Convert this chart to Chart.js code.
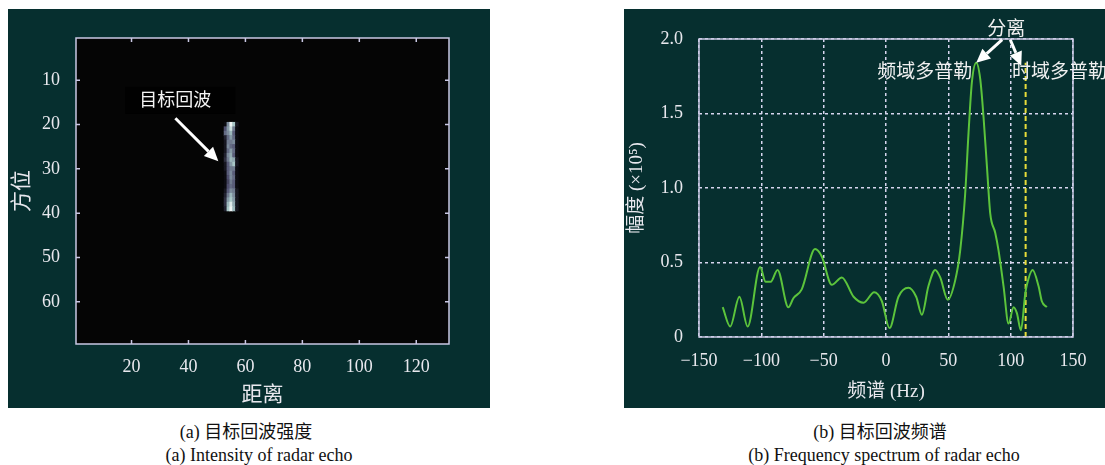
<!DOCTYPE html>
<html>
<head>
<meta charset="utf-8">
<script src="https://cdn.jsdelivr.net/npm/chart.js@4.4.1/dist/chart.umd.min.js"></script>
<style>
  body { margin: 0; background: #fff; width: 1105px; height: 465px; position: relative; overflow: hidden;
         font-family: "Liberation Serif", "Noto Sans CJK SC", serif; }
  .panel { position: absolute; background: #062f2f; }
  #pa { left: 8px; top: 9px; width: 482px; height: 399px; }
  #pb { left: 624px; top: 9px; width: 481px; height: 399px; }
  .cap { position: absolute; width: 400px; text-align: center; line-height: 22px; color: #111; }
  .zh { font-size: 18px; }
  .en { font-size: 18px; }
</style>
</head>
<body>
<div class="panel" id="pa"><canvas id="ca" width="482" height="399"></canvas></div>
<div class="panel" id="pb"><canvas id="cb" width="481" height="399"></canvas></div>
<div class="cap zh" style="left:46px;top:421px">(a) 目标回波强度</div>
<div class="cap en" style="left:59px;top:444px">(a) Intensity of radar echo</div>
<div class="cap zh" style="left:680px;top:421px">(b) 目标回波频谱</div>
<div class="cap en" style="left:684px;top:444px">(b) Frequency spectrum of radar echo</div>
<script>
const FONT = '"Liberation Serif", "Noto Sans CJK SC", serif';
const INK = '#e8e8ee';
const FRAME = '#c9c8e4';
const GRID = '#d6d5ee';

// (a) echo image: range columns, azimuth rows, intensity 0..1
const echoCols = [53, 54, 55, 56, 57];
const echoRows = [20, 21, 22, 23, 24, 25, 26, 27, 28, 29, 30, 31, 32, 33, 34, 35, 36, 37, 38, 39];
const echoLevels = [
  [0.05, 0.55, 0.95, 0.75, 0.10],
  [0.35, 0.60, 0.85, 0.50, 0.05],
  [0.45, 0.55, 0.70, 0.40, 0.05],
  [0.15, 0.45, 0.60, 0.45, 0.05],
  [0.10, 0.50, 0.50, 0.55, 0.05],
  [0.10, 0.55, 0.45, 0.40, 0.05],
  [0.10, 0.45, 0.60, 0.45, 0.05],
  [0.15, 0.55, 0.65, 0.40, 0.05],
  [0.20, 0.50, 0.70, 0.65, 0.10],
  [0.10, 0.40, 0.60, 0.75, 0.10],
  [0.10, 0.40, 0.50, 0.50, 0.05],
  [0.05, 0.40, 0.55, 0.40, 0.05],
  [0.05, 0.35, 0.55, 0.45, 0.05],
  [0.05, 0.30, 0.50, 0.40, 0.05],
  [0.05, 0.35, 0.45, 0.40, 0.05],
  [0.10, 0.40, 0.55, 0.50, 0.10],
  [0.15, 0.50, 0.70, 0.55, 0.10],
  [0.20, 0.60, 0.75, 0.60, 0.10],
  [0.20, 0.70, 0.90, 0.65, 0.10],
  [0.15, 0.75, 0.95, 0.70, 0.10]
];
const rangeTicks = [20, 40, 60, 80, 100, 120];
const azimuthTicks = [10, 20, 30, 40, 50, 60];

// (b) spectrum
const freqHz = [-131, -125, -117.6, -111, -101, -96.5, -92.5, -87, -78.3, -74.3, -67.6, -56.9, -51.5,
  -43.5, -35.4, -26, -18, -9.5, -3.3, 2.8, 10, 18, 24.2, 28.8, 34, 39.5, 43.5, 49.6, 55.5, 59.5,
  63.5, 66.2, 68.9, 72.4, 75.6, 78.2, 81, 83.6, 87.6, 90.3, 94.3, 98.3, 102.3, 105, 108.2, 111.7,
  113, 117.6, 122.4, 125, 129];
const amp = [0.20, 0.07, 0.27, 0.07, 0.47, 0.37, 0.37, 0.45, 0.20, 0.26, 0.32, 0.59, 0.54,
  0.35, 0.40, 0.27, 0.23, 0.30, 0.24, 0.06, 0.27, 0.33, 0.27, 0.15, 0.34, 0.45, 0.40, 0.25, 0.38, 0.58,
  0.96, 1.37, 1.71, 1.84, 1.73, 1.48, 1.14, 0.83, 0.70, 0.58, 0.34, 0.09, 0.20, 0.16, 0.045, 0.29,
  0.35, 0.45, 0.34, 0.24, 0.20];
const timeDopplerHz = 112;
const timeDopplerTop = 1.84;
const freqTicks = [-150, -100, -50, 0, 50, 100, 150];
const ampTicks = [0, 0.5, 1.0, 1.5, 2.0];

// matlab-like bone colormap
function bone(t) {
  const lerp = (pts) => {
    for (let i = 1; i < pts.length; i++) {
      if (t <= pts[i][0]) {
        const [x0, y0] = pts[i - 1], [x1, y1] = pts[i];
        return y0 + (y1 - y0) * (t - x0) / (x1 - x0);
      }
    }
    return 1;
  };
  const r = lerp([[0, 0], [0.746, 0.653], [1, 1]]);
  const g = lerp([[0, 0], [0.365, 0.319], [0.746, 0.778], [1, 1]]);
  const b = lerp([[0, 0], [0.365, 0.444], [1, 1]]);
  return `rgb(${Math.round(r * 255)},${Math.round(g * 255)},${Math.round(b * 255)})`;
}

function arrow(ctx, x1, y1, x2, y2) {
  const a = Math.atan2(y2 - y1, x2 - x1);
  const hl = 14, hw = 6.5;
  const bx = x2 - hl * Math.cos(a), by = y2 - hl * Math.sin(a);
  ctx.save();
  ctx.strokeStyle = '#fff';
  ctx.fillStyle = '#fff';
  ctx.lineWidth = 3;
  ctx.beginPath();
  ctx.moveTo(x1, y1);
  ctx.lineTo(bx, by);
  ctx.stroke();
  ctx.beginPath();
  ctx.moveTo(x2, y2);
  ctx.lineTo(bx + hw * Math.sin(a), by - hw * Math.cos(a));
  ctx.lineTo(bx - hw * Math.sin(a), by + hw * Math.cos(a));
  ctx.closePath();
  ctx.fill();
  ctx.restore();
}

const frame = (chart) => {
  const { ctx, chartArea: ca } = chart;
  ctx.save();
  ctx.strokeStyle = FRAME;
  ctx.lineWidth = 1.5;
  ctx.strokeRect(ca.left, ca.top, ca.right - ca.left, ca.bottom - ca.top);
  ctx.restore();
};

// ---------- (a) ----------
const cells = [];
const cellColors = [];
echoRows.forEach((row, i) => {
  echoCols.forEach((col, j) => {
    cells.push({ x: col, y: [row - 0.5, row + 0.5] });
    cellColors.push(bone(echoLevels[i][j]));
  });
});

new Chart(document.getElementById('ca'), {
  type: 'bar',
  data: {
    datasets: [{ data: cells, backgroundColor: cellColors, borderWidth: 0, barPercentage: 1, categoryPercentage: 1 }]
  },
  options: {
    responsive: false,
    animation: false,
    events: [],
    layout: { padding: { left: 0, right: 41, top: 29, bottom: 0 } },
    plugins: { legend: { display: false }, tooltip: { enabled: false } },
    scales: {
      x: {
        type: 'linear', min: 0.5, max: 131.5, offset: false,
        grid: { display: false, offset: false, drawTicks: false },
        border: { display: false },
        afterBuildTicks: (s) => { s.ticks = rangeTicks.map(v => ({ value: v })); },
        afterFit: (s) => { s.height = 64; },
        ticks: { color: INK, font: { family: FONT, size: 18 }, padding: 12, maxRotation: 0, autoSkip: false },
        title: { display: true, text: '距离', color: INK, font: { family: FONT, size: 21 }, padding: { top: 0, bottom: 0 } }
      },
      y: {
        type: 'linear', min: 0.5, max: 69.5, reverse: true,
        grid: { display: false, drawTicks: false },
        border: { display: false },
        afterBuildTicks: (s) => { s.ticks = azimuthTicks.map(v => ({ value: v })); },
        afterFit: (s) => { s.width = 68; },
        ticks: { color: INK, font: { family: FONT, size: 18 }, padding: 16, autoSkip: false },
        title: { display: true, text: '方位', color: INK, font: { family: FONT, size: 21 }, padding: { top: 2, bottom: 0 } }
      }
    }
  },
  plugins: [{
    id: 'echoDecor',
    beforeDraw(chart) {
      const { ctx, chartArea: ca } = chart;
      ctx.save();
      ctx.fillStyle = '#050505';
      ctx.fillRect(ca.left, ca.top, ca.right - ca.left, ca.bottom - ca.top);
      ctx.restore();
    },
    afterDraw(chart) {
      const { ctx, chartArea: ca, scales: { x, y } } = chart;
      frame(chart);
      ctx.save();
      ctx.strokeStyle = FRAME;
      ctx.lineWidth = 1.5;
      ctx.beginPath();
      rangeTicks.forEach(v => {
        const px = x.getPixelForValue(v);
        ctx.moveTo(px, ca.bottom); ctx.lineTo(px, ca.bottom - 4);
        ctx.moveTo(px, ca.top); ctx.lineTo(px, ca.top + 4);
      });
      azimuthTicks.forEach(v => {
        const py = y.getPixelForValue(v);
        ctx.moveTo(ca.left, py); ctx.lineTo(ca.left + 4, py);
        ctx.moveTo(ca.right, py); ctx.lineTo(ca.right - 4, py);
      });
      ctx.stroke();

      // label box + arrow
      const tx = x.getPixelForValue(35.4), ty = y.getPixelForValue(14.7);
      ctx.fillStyle = '#010101';
      ctx.fillRect(tx - 50, ty - 14, 110, 27);
      ctx.fillStyle = '#f4f4f4';
      ctx.font = `18px ${FONT}`;
      ctx.textAlign = 'center';
      ctx.textBaseline = 'middle';
      ctx.fillText('目标回波', tx, ty);
      ctx.restore();
      arrow(ctx, x.getPixelForValue(35.4), y.getPixelForValue(18.6), x.getPixelForValue(50.5), y.getPixelForValue(28.3));
    }
  }]
});

// ---------- (b) ----------
const fmt = (v) => String(v).replace('-', '\u2212');

new Chart(document.getElementById('cb'), {
  type: 'line',
  data: {
    datasets: [
      {
        data: freqHz.map((f, i) => ({ x: f, y: amp[i] })),
        borderColor: '#5cc43c', borderWidth: 2, pointRadius: 0,
        cubicInterpolationMode: 'monotone', fill: false
      },
      {
        data: [{ x: timeDopplerHz, y: 0 }, { x: timeDopplerHz, y: timeDopplerTop }],
        borderColor: '#e8dc3a', borderWidth: 2, borderDash: [5, 3], pointRadius: 0, fill: false
      }
    ]
  },
  options: {
    responsive: false,
    animation: false,
    events: [],
    layout: { padding: { left: 0, right: 32, top: 30, bottom: 0 } },
    plugins: { legend: { display: false }, tooltip: { enabled: false } },
    scales: {
      x: {
        type: 'linear', min: -150, max: 150,
        grid: { color: GRID, lineWidth: 1.5, drawTicks: false },
        border: { display: false, dash: [3, 3] },
        afterBuildTicks: (s) => { s.ticks = freqTicks.map(v => ({ value: v })); },
        afterFit: (s) => { s.height = 71; },
        ticks: { color: INK, font: { family: FONT, size: 18 }, padding: 13, maxRotation: 0, autoSkip: false, callback: fmt },
        title: { display: true, text: '频谱 (Hz)', color: INK, font: { family: FONT, size: 19 }, padding: { top: 0, bottom: 5 } }
      },
      y: {
        type: 'linear', min: 0, max: 2,
        grid: { color: GRID, lineWidth: 1.5, drawTicks: false },
        border: { display: false, dash: [3, 3] },
        afterBuildTicks: (s) => { s.ticks = ampTicks.map(v => ({ value: v })); },
        afterFit: (s) => { s.width = 75; },
        ticks: { color: INK, font: { family: FONT, size: 18 }, padding: 16, autoSkip: false,
                 callback: (v) => (v === 0 ? '0' : v.toFixed(1)) },
        title: { display: true, text: '幅度 (×10⁵)', color: INK, font: { family: FONT, size: 19 }, padding: { top: 2, bottom: 0 } }
      }
    }
  },
  plugins: [{
    id: 'spectrumDecor',
    afterDraw(chart) {
      const { ctx, scales: { x, y } } = chart;
      frame(chart);
      ctx.save();
      ctx.fillStyle = '#f0f0f0';
      ctx.font = `19px ${FONT}`;
      ctx.textBaseline = 'middle';
      ctx.textAlign = 'center';
      ctx.fillText('分离', x.getPixelForValue(96.4), y.getPixelForValue(2.06));
      ctx.textAlign = 'right';
      ctx.fillText('频域多普勒', x.getPixelForValue(69.2), y.getPixelForValue(1.77));
      ctx.textAlign = 'left';
      ctx.fillText('时域多普勒', x.getPixelForValue(101), y.getPixelForValue(1.77));
      ctx.restore();
      arrow(ctx, x.getPixelForValue(93.2), y.getPixelForValue(1.995), x.getPixelForValue(72.4), y.getPixelForValue(1.84));
      arrow(ctx, x.getPixelForValue(99.7), y.getPixelForValue(1.995), x.getPixelForValue(108.5), y.getPixelForValue(1.82));
    }
  }]
});
</script>
</body>
</html>
